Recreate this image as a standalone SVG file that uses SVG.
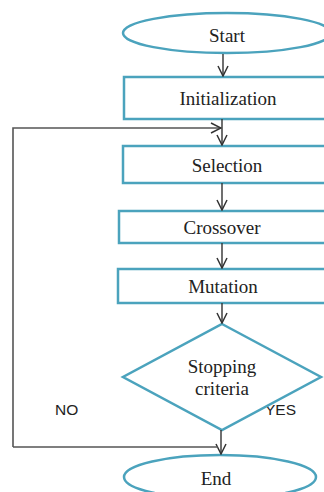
<svg xmlns="http://www.w3.org/2000/svg" width="324" height="492" viewBox="0 0 324 492">
<style>
.shape{fill:#fff;stroke:#4ba3bd;stroke-width:2.5}
.lbl{font-family:"Liberation Serif","Times New Roman",serif;font-size:19px;fill:#222;text-anchor:middle}
.side{font-family:"Liberation Sans",Arial,sans-serif;font-size:15.5px;fill:#222}
.conn{fill:none;stroke:#333;stroke-width:1.4}
.loop{fill:none;stroke:#555;stroke-width:1.6}
</style>
<defs>
<marker id="arr" viewBox="0 0 12 12" refX="11" refY="6" markerWidth="12" markerHeight="12" markerUnits="userSpaceOnUse" orient="auto">
<path d="M1,1 L11,6 L1,11" fill="none" stroke="#333" stroke-width="1.5"/>
</marker>
</defs>
<text class="side" x="55" y="415">NO</text>
<text class="side" x="265" y="415">YES</text>
<g id="start"><ellipse class="shape" cx="227" cy="33" rx="104" ry="20"/><text class="lbl" x="227" y="42">Start</text></g>
<g id="init"><rect class="shape" x="124" y="77" width="210" height="42"/><text class="lbl" x="228" y="105">Initialization</text></g>
<g id="selection"><rect class="shape" x="123" y="146" width="210" height="37"/><text class="lbl" x="227" y="172">Selection</text></g>
<g id="crossover"><rect class="shape" x="119" y="211" width="215" height="32"/><text class="lbl" x="222" y="234">Crossover</text></g>
<g id="mutation"><rect class="shape" x="118" y="269" width="216" height="34"/><text class="lbl" x="223" y="293">Mutation</text></g>
<g id="stop"><polygon class="shape" points="222,324 321,377 222,430 123,377"/><text class="lbl" x="222" y="373">Stopping</text><text class="lbl" x="222" y="395">criteria</text></g>
<g id="end"><ellipse class="shape" cx="220" cy="477" rx="96" ry="22"/><text class="lbl" x="216" y="485">End</text></g>
<g id="connectors">
<line class="conn" x1="223" y1="54" x2="223" y2="76" marker-end="url(#arr)"/>
<line class="conn" x1="222" y1="119" x2="222" y2="145" marker-end="url(#arr)"/>
<polyline class="loop" points="13,447 13,128 221,128" marker-end="url(#arr)"/>
<line class="conn" x1="222" y1="183" x2="222" y2="210" marker-end="url(#arr)"/>
<line class="conn" x1="222" y1="243" x2="222" y2="268" marker-end="url(#arr)"/>
<line class="conn" x1="222" y1="303" x2="222" y2="323" marker-end="url(#arr)"/>
<line class="conn" x1="221" y1="430" x2="221" y2="454" marker-end="url(#arr)"/>
<line class="loop" x1="13" y1="447" x2="218" y2="447"/>
</g>
</svg>
